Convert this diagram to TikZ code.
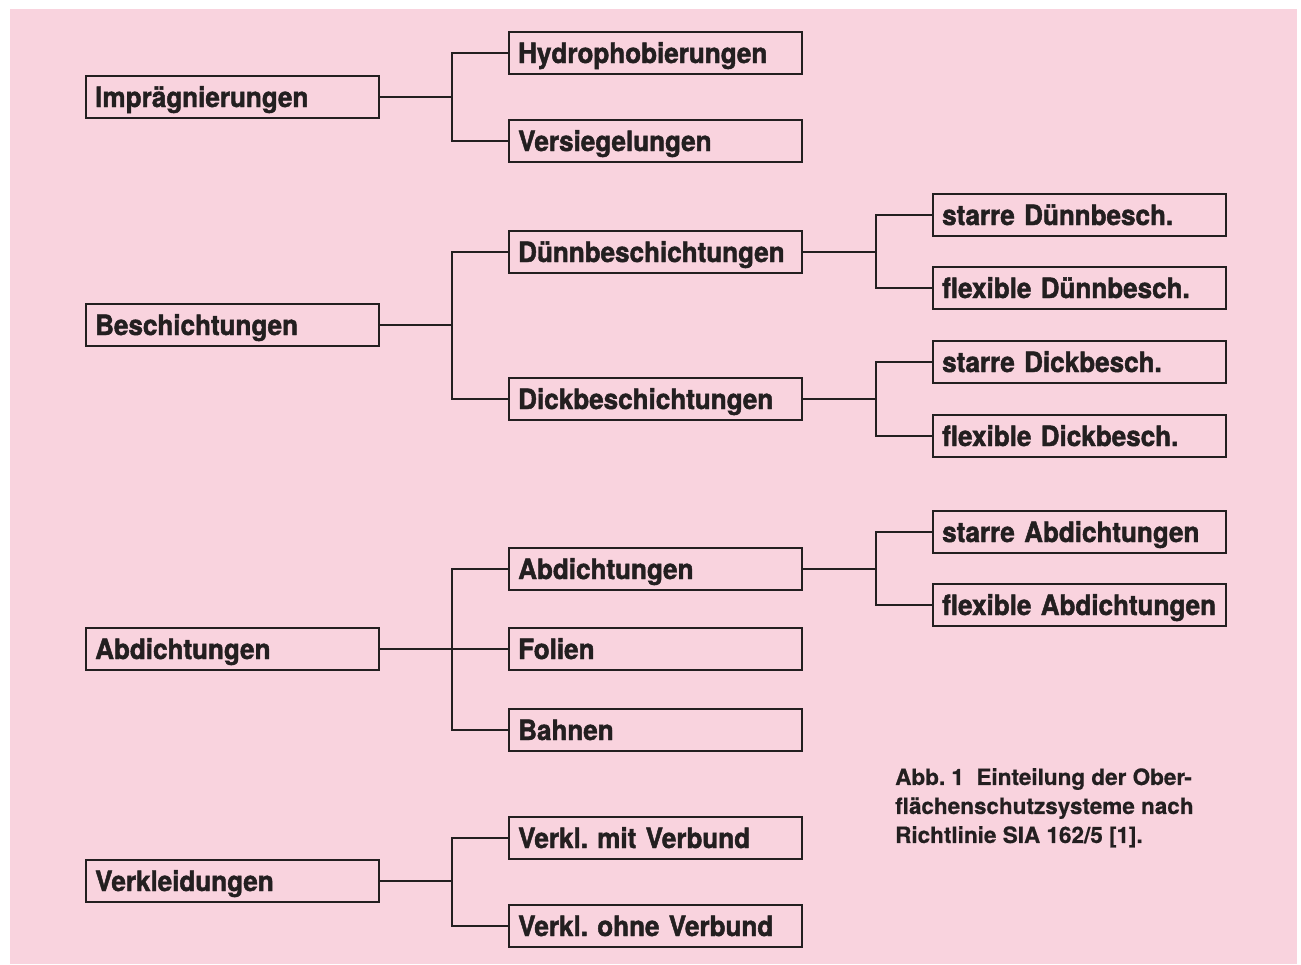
\documentclass[tikz,border=0pt]{standalone}
\usepackage{fontspec}
\setmainfont{TeX Gyre Heros}
\newfontfamily\cnfont[FakeStretch=0.93,FakeBold=1.6]{TeX Gyre Heros}
\newfontfamily\capfont[FakeBold=0.6]{TeX Gyre Heros}
\definecolor{rosa}{HTML}{F9D3DE}
\definecolor{ink}{HTML}{231F20}
\frenchspacing

\begin{document}
\begin{tikzpicture}[x=1pt,y=1pt]
\tikzstyle{every node}+=[text=ink]
\tikzstyle{kasten}=[draw=ink,line width=2.4pt,anchor=west,minimum height=42pt,
  inner xsep=9pt,inner ysep=0pt,text width=275pt,align=left,
  text height=20pt,text depth=0pt,font=\cnfont\bfseries\fontsize{28}{30}\selectfont]
\tikzstyle{ast}=[draw=ink,line width=2.4pt]
\useasboundingbox (0,0) rectangle (1301,-964);
\fill [rosa] (10,-9) rectangle (1297,-964);
% linke Spalte
\node [kasten] (impr) at (85,-97) {Imprägnierungen};
\node [kasten] (besch) at (85,-325) {Beschichtungen};
\node [kasten] (abd) at (85,-649) {Abdichtungen};
\node [kasten] (verkl) at (85,-881) {Verkleidungen};
% mittlere Spalte
\node [kasten] (hydro) at (508,-53) {Hydrophobierungen};
\node [kasten] (versieg) at (508,-141) {Versiegelungen};
\node [kasten] (duenn) at (508,-252) {Dünnbeschichtungen};
\node [kasten] (dick) at (508,-399) {Dickbeschichtungen};
\node [kasten] (abd2) at (508,-569) {Abdichtungen};
\node [kasten] (folien) at (508,-649) {Folien};
\node [kasten] (bahnen) at (508,-730) {Bahnen};
\node [kasten] (mitv) at (508,-838) {Verkl. mit Verbund};
\node [kasten] (ohnev) at (508,-926) {Verkl. ohne Verbund};
% rechte Spalte
\node [kasten] (sduenn) at (932,-215) {starre Dünnbesch.};
\node [kasten] (fduenn) at (932,-288) {flexible Dünnbesch.};
\node [kasten] (sdick) at (932,-362) {starre Dickbesch.};
\node [kasten] (fdick) at (932,-436) {flexible Dickbesch.};
\node [kasten] (sabd) at (932,-532) {starre Abdichtungen};
\node [kasten] (fabd) at (932,-605) {flexible Abdichtungen};
% Verzweigungen
\coordinate (k1) at (452,-97);
\coordinate (k2) at (452,-325);
\coordinate (k3) at (452,-649);
\coordinate (k4) at (452,-881);
\coordinate (k5) at (876,-252);
\coordinate (k6) at (876,-399);
\coordinate (k7) at (876,-569);
\draw [ast] (impr.east) -- (k1);
\draw [ast] (k1) |- (hydro.west);
\draw [ast] (k1) |- (versieg.west);
\draw [ast] (besch.east) -- (k2);
\draw [ast] (k2) |- (duenn.west);
\draw [ast] (k2) |- (dick.west);
\draw [ast] (abd.east) -- (folien.west);
\draw [ast] (k3) |- (abd2.west);
\draw [ast] (k3) |- (bahnen.west);
\draw [ast] (verkl.east) -- (k4);
\draw [ast] (k4) |- (mitv.west);
\draw [ast] (k4) |- (ohnev.west);
\draw [ast] (duenn.east) -- (k5);
\draw [ast] (k5) |- (sduenn.west);
\draw [ast] (k5) |- (fduenn.west);
\draw [ast] (dick.east) -- (k6);
\draw [ast] (k6) |- (sdick.west);
\draw [ast] (k6) |- (fdick.west);
\draw [ast] (abd2.east) -- (k7);
\draw [ast] (k7) |- (sabd.west);
\draw [ast] (k7) |- (fabd.west);
% Bildunterschrift
\node [anchor=north west,align=left,inner sep=0pt,font=\capfont\bfseries\fontsize{22.5}{29}\selectfont] (caption) at (895,-768)
  {Abb. 1\ \ Einteilung der Ober-\\flächenschutzsysteme nach\\Richtlinie SIA 162/5 [1].};
\end{tikzpicture}
\end{document}
